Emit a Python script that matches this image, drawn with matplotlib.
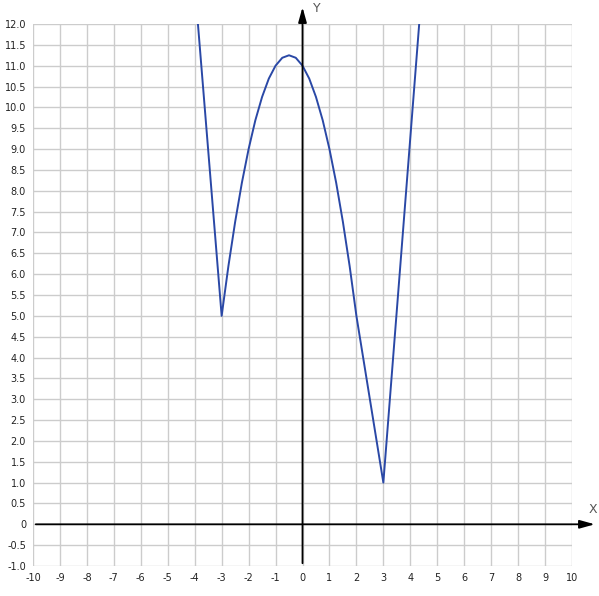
import matplotlib
matplotlib.use("Agg")
import matplotlib.pyplot as plt

# points
curve_x = [-3.88, -3.0, -2.75, -2.5, -2.25, -2.0, -1.75, -1.5, -1.25, -1.0, -0.75,
           -0.5, -0.25, 0.0, 0.25, 0.5, 0.75, 1.0, 1.25, 1.5, 1.75, 2.0, 3.0, 4.33]
curve_y = [12.0, 5.0, 6.19, 7.25, 8.19, 9.0, 9.69, 10.25, 10.69, 11.0, 11.19,
           11.25, 11.19, 11.0, 10.69, 10.25, 9.69, 9.0, 8.19, 7.25, 6.19, 5.0, 1.0, 12.0]

x_ticks = list(range(-10, 11))
y_ticks = [i * 0.5 for i in range(-2, 25)]
x_labels = [str(v) for v in x_ticks]
y_labels = ["0" if v == 0 else f"{v:.1f}" for v in y_ticks]

fig = plt.figure(figsize=(5.99, 5.96), dpi=100)
ax = fig.add_axes([33 / 599, 30 / 596, 539 / 599, 542 / 596])
ax.set_xlim(-10, 10)
ax.set_ylim(-1, 12)

ax.set_xticks(x_ticks)
ax.set_xticklabels(x_labels)
ax.set_yticks(y_ticks)
ax.set_yticklabels(y_labels)
ax.tick_params(length=0, labelsize=7, colors="#222222", pad=5)
ax.grid(True, color="#cccccc", linewidth=1)
for s in ax.spines.values():
    s.set_visible(False)

# axes with arrows
ax.annotate("", xy=(10.95, 0), xytext=(-10, 0),
            arrowprops=dict(arrowstyle="-|>,head_length=0.9,head_width=0.25", color="black", lw=1.3),
            annotation_clip=False)
ax.annotate("", xy=(0, 12.47), xytext=(0, -1),
            arrowprops=dict(arrowstyle="-|>,head_length=0.9,head_width=0.25", color="black", lw=1.3),
            annotation_clip=False)
ax.text(0.38, 12.38, "Y", fontsize=9, color="#555555", clip_on=False, va="center")
ax.text(10.6, 0.35, "X", fontsize=9, color="#555555", clip_on=False, va="center")

ax.plot(curve_x, curve_y, color="#2a48a6", linewidth=1.4)

fig.savefig("out.png", dpi=100)
